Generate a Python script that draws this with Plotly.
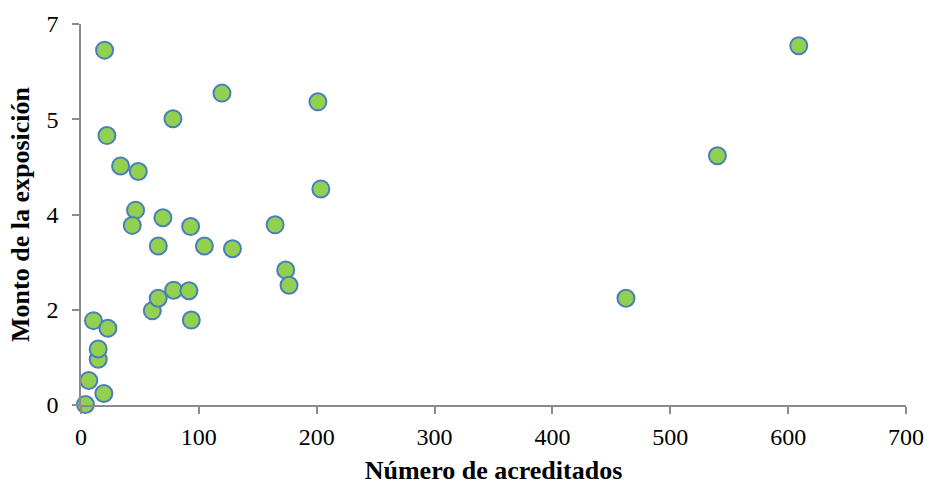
import plotly.graph_objects as go

# Número de acreditados
acreditados = [3.8, 6.6, 19.4, 14.6, 14.6, 10.6, 22.8, 60.5, 65.5, 78.6, 91.6, 93.6,
               65.6, 104.7, 128.5, 173.7, 176.5, 46.3, 43.5, 69.5, 93.0, 164.7,
               20.0, 22.0, 33.6, 48.6, 78.0, 119.6, 201.0, 203.5,
               462.4, 540.0, 609.0]
# Monto de la exposición
monto = [0.01, 0.45, 0.21, 0.84, 1.03, 1.55, 1.41, 1.73, 1.96, 2.11, 2.10, 1.56,
         2.92, 2.92, 2.87, 2.48, 2.20, 3.58, 3.30, 3.44, 3.28, 3.31,
         6.52, 4.95, 4.39, 4.29, 5.26, 5.73, 5.57, 3.97,
         1.96, 4.58, 6.60]

x_ticks = [0, 100, 200, 300, 400, 500, 600, 700]
y_tickvals = [0, 1.75, 3.5, 5.25, 7]
y_ticktext = ["0", "2", "4", "5", "7"]

fig = go.Figure(go.Scatter(
    x=acreditados, y=monto, mode="markers", cliponaxis=False,
    marker=dict(size=17, color="#92D050", line=dict(color="#4A7EBB", width=2)),
    showlegend=False,
))

axis_color = "#8C8C8C"
font_family = "Liberation Serif, Times New Roman, serif"

fig.update_layout(
    width=929, height=485,
    margin=dict(l=81, r=23, t=24, b=80),
    paper_bgcolor="white", plot_bgcolor="white",
    font=dict(family=font_family, color="black", size=24),
    xaxis=dict(
        range=[0, 700], tickvals=x_ticks, showgrid=False, zeroline=False,
        showline=True, linecolor=axis_color, linewidth=1.5, automargin=False,
        ticks="outside", ticklen=7, tickcolor=axis_color, tickwidth=1.5,
        ticklabelstandoff=2,
        tickfont=dict(size=24, family=font_family),
        title=dict(text="<b>Número de acreditados</b>", font=dict(size=26, family=font_family), standoff=22),
    ),
    yaxis=dict(
        range=[0, 7], tickvals=y_tickvals, ticktext=y_ticktext, showgrid=False, zeroline=False,
        showline=True, linecolor=axis_color, linewidth=1.5, automargin=False,
        ticks="outside", ticklen=7, tickcolor=axis_color, tickwidth=1.5,
        ticklabelstandoff=9,
        tickfont=dict(size=24, family=font_family),
        title=dict(text="<b>Monto de la exposición</b>", font=dict(size=26, family=font_family), standoff=9),
    ),
)

fig.write_html("out.html", config={"displayModeBar": False},
               post_script="document.body.style.margin='0';")
